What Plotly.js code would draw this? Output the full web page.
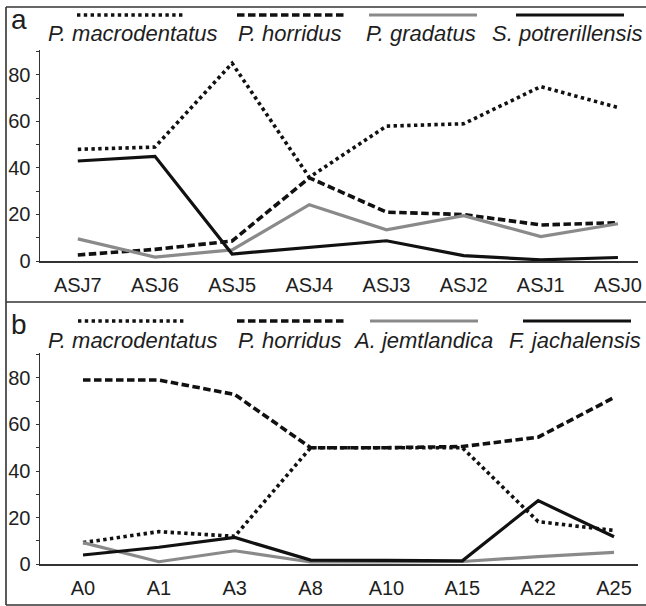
<!DOCTYPE html>
<html>
<head>
<meta charset="utf-8">
<script src="https://cdn.plot.ly/plotly-3.0.1.min.js"></script>
<style>
  html, body { margin: 0; padding: 0; background: #fff; }
  #chart { width: 646px; height: 606px; }
</style>
</head>
<body>
<div id="chart"></div>
<script>
// ---- Data ----
const panelALabel = 'a';
const panelBLabel = 'b';

const categoriesA = ['ASJ7', 'ASJ6', 'ASJ5', 'ASJ4', 'ASJ3', 'ASJ2', 'ASJ1', 'ASJ0'];
const seriesNamesA = ['P. macrodentatus', 'P. horridus', 'P. gradatus', 'S. potrerillensis'];
const macrodentatusA = [48, 49, 85, 36, 58, 59, 75, 66];
const horridusA = [2.6, 5, 8.6, 35.8, 21, 20, 15.5, 16.5];
const gradatusA = [9.5, 1.7, 4.8, 24.2, 13.4, 19.5, 10.5, 16];
const potrerillensisA = [43, 45, 3, 6, 8.7, 2.3, 0.5, 1.5];

const categoriesB = ['A0', 'A1', 'A3', 'A8', 'A10', 'A15', 'A22', 'A25'];
const seriesNamesB = ['P. macrodentatus', 'P. horridus', 'A. jemtlandica', 'F. jachalensis'];
const macrodentatusB = [9.3, 14, 12, 50, 50, 50, 18.3, 14.5];
const horridusB = [79, 79, 72.8, 50, 50, 50.5, 54.5, 71.5];
const jemtlandicaB = [9.3, 1.1, 5.8, 1, 1, 1.2, 3.3, 5.1];
const jachalensisB = [4, 7.3, 11.5, 1.8, 1.7, 1.5, 27.3, 11.8];

const yTickValues = [0, 20, 40, 60, 80];

// ---- Styles ----
const W = 646, H = 606;
const styles = [
  { color: '#111111', width: 3.6, dash: '3.4px,3.4px' },   // dotted
  { color: '#111111', width: 3.6, dash: '7.5px,3.5px' },   // dashed
  { color: '#8a8a8a', width: 3.2, dash: 'solid' },         // grey solid
  { color: '#111111', width: 3.2, dash: 'solid' }          // black solid
];
const FONT = 'Liberation Sans, Arial, Helvetica, sans-serif';
const textColor = '#1e1e1e';
const px = v => v / W;
const py = v => 1 - v / H;

const seriesA = [macrodentatusA, horridusA, gradatusA, potrerillensisA];
const seriesB = [macrodentatusB, horridusB, jemtlandicaB, jachalensisB];

const traces = [];
seriesA.forEach((vals, i) => {
  traces.push({
    type: 'scatter', mode: 'lines', x: categoriesA, y: vals, name: seriesNamesA[i],
    xaxis: 'x', yaxis: 'y', showlegend: false, hoverinfo: 'skip',
    line: { color: styles[i].color, width: styles[i].width, dash: styles[i].dash }
  });
});
seriesB.forEach((vals, i) => {
  traces.push({
    type: 'scatter', mode: 'lines', x: categoriesB, y: vals, name: seriesNamesB[i],
    xaxis: 'x2', yaxis: 'y2', showlegend: false, hoverinfo: 'skip',
    line: { color: styles[i].color, width: styles[i].width, dash: styles[i].dash }
  });
});

// legend geometry (pixels)
const legendA = { lineY: 15, textY: 33, lineCx: [131, 291, 423, 570], textCx: [133, 290, 421, 567], half: 54 };
const legendB = { lineY: 321, textY: 340, lineCx: [132, 291, 424, 577], textCx: [133, 290, 423, 575], half: 54 };

const shapes = [];
const annotations = [];

function addLegend(names, lg) {
  names.forEach((nm, i) => {
    const s = styles[i];
    shapes.push({
      type: 'line', xref: 'paper', yref: 'paper',
      x0: px(lg.lineCx[i] - lg.half), x1: px(lg.lineCx[i] + lg.half),
      y0: py(lg.lineY), y1: py(lg.lineY),
      line: { color: s.color, width: s.width, dash: s.dash }
    });
    annotations.push({
      xref: 'paper', yref: 'paper', x: px(lg.textCx[i]), y: py(lg.textY),
      xanchor: 'center', yanchor: 'middle', showarrow: false,
      text: '<i>' + nm + '</i>',
      font: { family: FONT, size: 22, color: textColor }
    });
  });
}
addLegend(seriesNamesA, legendA);
addLegend(seriesNamesB, legendB);

annotations.push({ xref: 'paper', yref: 'paper', x: px(19), y: py(20), xanchor: 'center', yanchor: 'middle',
  showarrow: false, text: panelALabel, font: { family: FONT, size: 28, color: textColor } });
annotations.push({ xref: 'paper', yref: 'paper', x: px(19), y: py(324), xanchor: 'center', yanchor: 'middle',
  showarrow: false, text: panelBLabel, font: { family: FONT, size: 28, color: textColor } });

// frame lines
const frame = { color: '#333333', width: 1.6 };
[
  [6, 7, 646, 7],
  [6, 7, 6, 605],
  [6, 302, 646, 302],
  [6, 605, 646, 605]
].forEach(c => shapes.push({ type: 'line', xref: 'paper', yref: 'paper',
  x0: px(c[0]), y0: py(c[1]), x1: px(c[2]), y1: py(c[3]), line: frame }));

const axisLine = '#333333';
function xAxis(domain, range, anchor) {
  return {
    domain: domain, range: range, type: 'category', anchor: anchor,
    showgrid: false, zeroline: false, showline: true, linecolor: axisLine, linewidth: 1.5,
    ticks: '', ticklabelstandoff: 5,
    tickfont: { family: FONT, size: 20, color: textColor }, fixedrange: true
  };
}
function yAxis(domain, anchor) {
  return {
    domain: domain, range: [0, 90.6], anchor: anchor,
    showgrid: false, zeroline: false, showline: true, linecolor: axisLine, linewidth: 1.5,
    tickmode: 'array', tickvals: yTickValues, ticktext: yTickValues.map(String),
    ticks: 'outside', ticklen: 3, tickwidth: 1, tickcolor: axisLine, ticklabelstandoff: 1,
    minor: { dtick: 10, tick0: 0, ticks: 'outside', ticklen: 3, tickwidth: 1, tickcolor: axisLine },
    tickfont: { family: FONT, size: 20, color: textColor }, fixedrange: true
  };
}

const layout = {
  width: W, height: H,
  margin: { l: 0, r: 0, t: 0, b: 0, pad: 0 },
  paper_bgcolor: '#ffffff', plot_bgcolor: 'rgba(0,0,0,0)',
  showlegend: false,
  xaxis: xAxis([px(40), px(638)], [-0.49, 7.26], 'y'),
  yaxis: yAxis([py(261), py(50.3)], 'x'),
  xaxis2: xAxis([px(40), px(638)], [-0.567, 7.316], 'y2'),
  yaxis2: yAxis([py(564.3), py(353)], 'x2'),
  shapes: shapes,
  annotations: annotations
};

Plotly.newPlot('chart', traces, layout, { staticPlot: true, displayModeBar: false });
</script>
</body>
</html>
